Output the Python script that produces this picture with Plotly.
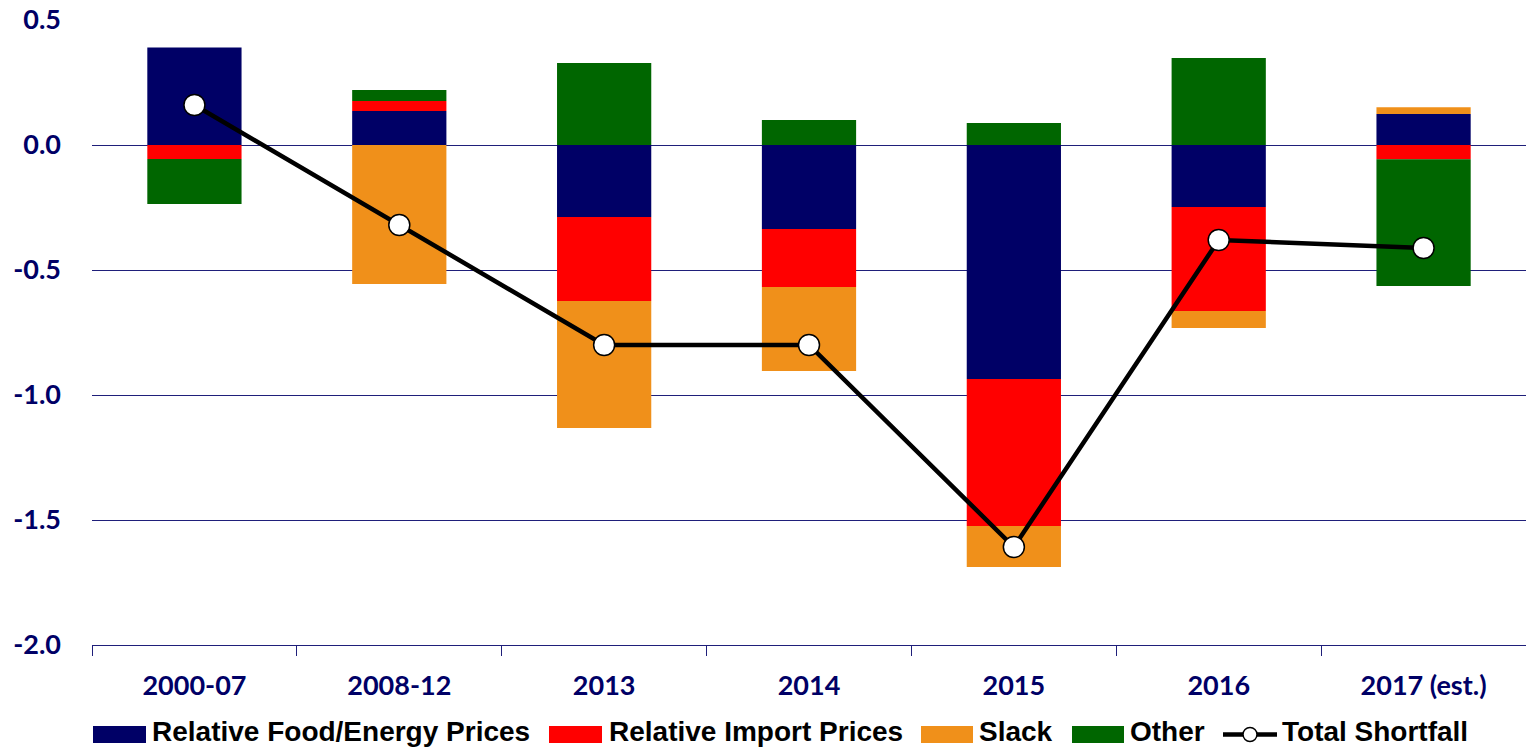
import plotly.graph_objects as go

categories = ["2000-07", "2008-12", "2013", "2014", "2015", "2016", "2017 (est.)"]
food_energy = [0.39, 0.136, -0.288, -0.336, -0.936, -0.248, 0.124]
import_prices = [-0.056, 0.04, -0.336, -0.232, -0.588, -0.416, -0.057]
slack = [0.0, -0.556, -0.508, -0.336, -0.164, -0.068, 0.027]
other = [-0.18, 0.044, 0.328, 0.10, 0.088, 0.348, -0.507]
total = [0.16, -0.32, -0.80, -0.80, -1.608, -0.38, -0.412]
y_ticks = [0.5, 0.0, -0.5, -1.0, -1.5, -2.0]
y_ticklabels = ["0.5", "0.0", "-0.5", "-1.0", "-1.5", "-2.0"]

series = [
    ("Relative Food/Energy Prices", food_energy, "#000066"),
    ("Relative Import Prices", import_prices, "#FF0000"),
    ("Slack", slack, "#F0901A"),
    ("Other", other, "#006600"),
]

navy = "#000066"
W, H = 1526, 748
# plot area on screen: x 92..1526, y 20..645
L, R, T, B = 92, 0, 20, 748 - 645
pw, ph = W - L - R, H - T - B

def px(x):  # screen pixel -> paper x
    return (x - L) / pw

def py(y):  # screen pixel -> paper y
    return (H - B - y) / ph

fig = go.Figure()
for name, vals, col in series:
    fig.add_trace(go.Bar(x=categories, y=vals, name=name,
                         marker=dict(color=col, line=dict(width=0))))

fig.add_trace(go.Scatter(
    x=categories, y=total, name="Total Shortfall", mode="lines+markers",
    line=dict(color="black", width=4.5),
    marker=dict(symbol="circle", size=21, color="white", line=dict(color="black", width=1.5)),
))

# custom legend (wide swatches like the reference)
leg_font = dict(family="Liberation Sans", size=28, color="black", weight="bold")
swatches = [(93, 146, 151), (549, 602, 608), (921, 973, 978), (1072, 1124, 1129)]
shapes = []
annotations = []
ly0, ly1, lyc = 726, 743, 734.5
text_bottom = 747.5
for (x0, x1, tx), (name, _, col) in zip(swatches, series):
    shapes.append(dict(type="rect", xref="paper", yref="paper",
                       x0=px(x0), x1=px(x1), y0=py(ly1), y1=py(ly0),
                       fillcolor=col, line=dict(width=0)))
    annotations.append(dict(text=name, xref="paper", yref="paper", x=px(tx), y=py(text_bottom),
                            xanchor="left", yanchor="bottom", showarrow=False, font=leg_font,
                            borderpad=0))
shapes.append(dict(type="line", xref="paper", yref="paper",
                   x0=px(1223), x1=px(1277), y0=py(lyc), y1=py(lyc),
                   line=dict(color="black", width=4.5)))
r = 7
shapes.append(dict(type="circle", xref="paper", yref="paper",
                   x0=px(1250 - r), x1=px(1250 + r), y0=py(lyc + r), y1=py(lyc - r),
                   fillcolor="white", line=dict(color="black", width=1.5)))
annotations.append(dict(text="Total Shortfall", xref="paper", yref="paper", x=px(1281), y=py(text_bottom),
                        xanchor="left", yanchor="bottom", showarrow=False, font=leg_font,
                        borderpad=0))

fig.update_layout(
    width=W, height=H,
    barmode="relative", bargap=0.54,
    plot_bgcolor="white", paper_bgcolor="white",
    margin=dict(l=L, r=R, t=T, b=B, autoexpand=False),
    showlegend=False,
    hovermode=False,
    shapes=shapes, annotations=annotations,
    xaxis=dict(
        automargin=False,
        showline=True, linecolor="#1F1F7A", linewidth=1,
        ticks="outside", tickson="boundaries", ticklen=10, tickcolor="#1F1F7A",
        tickfont=dict(family="Lato", size=27, color=navy, weight="bold"),
        ticklabelstandoff=17, ticklabeloverflow="allow",
        showgrid=False,
    ),
    yaxis=dict(
        automargin=False,
        range=[-2.0, 0.5], tickvals=y_ticks, ticktext=y_ticklabels,
        showgrid=True, gridcolor="#1F1F7A", gridwidth=1,
        zeroline=True, zerolinecolor="#1F1F7A", zerolinewidth=1,
        showline=False, ticks="", ticklabelstandoff=30, ticklabeloverflow="allow",
        tickfont=dict(family="Lato", size=27, color=navy, weight="bold"),
    ),
)

fig.write_html("out.html",
               config={"displayModeBar": False, "staticPlot": True},
               post_script="document.body.style.margin='0px';document.body.style.overflow='hidden';")
